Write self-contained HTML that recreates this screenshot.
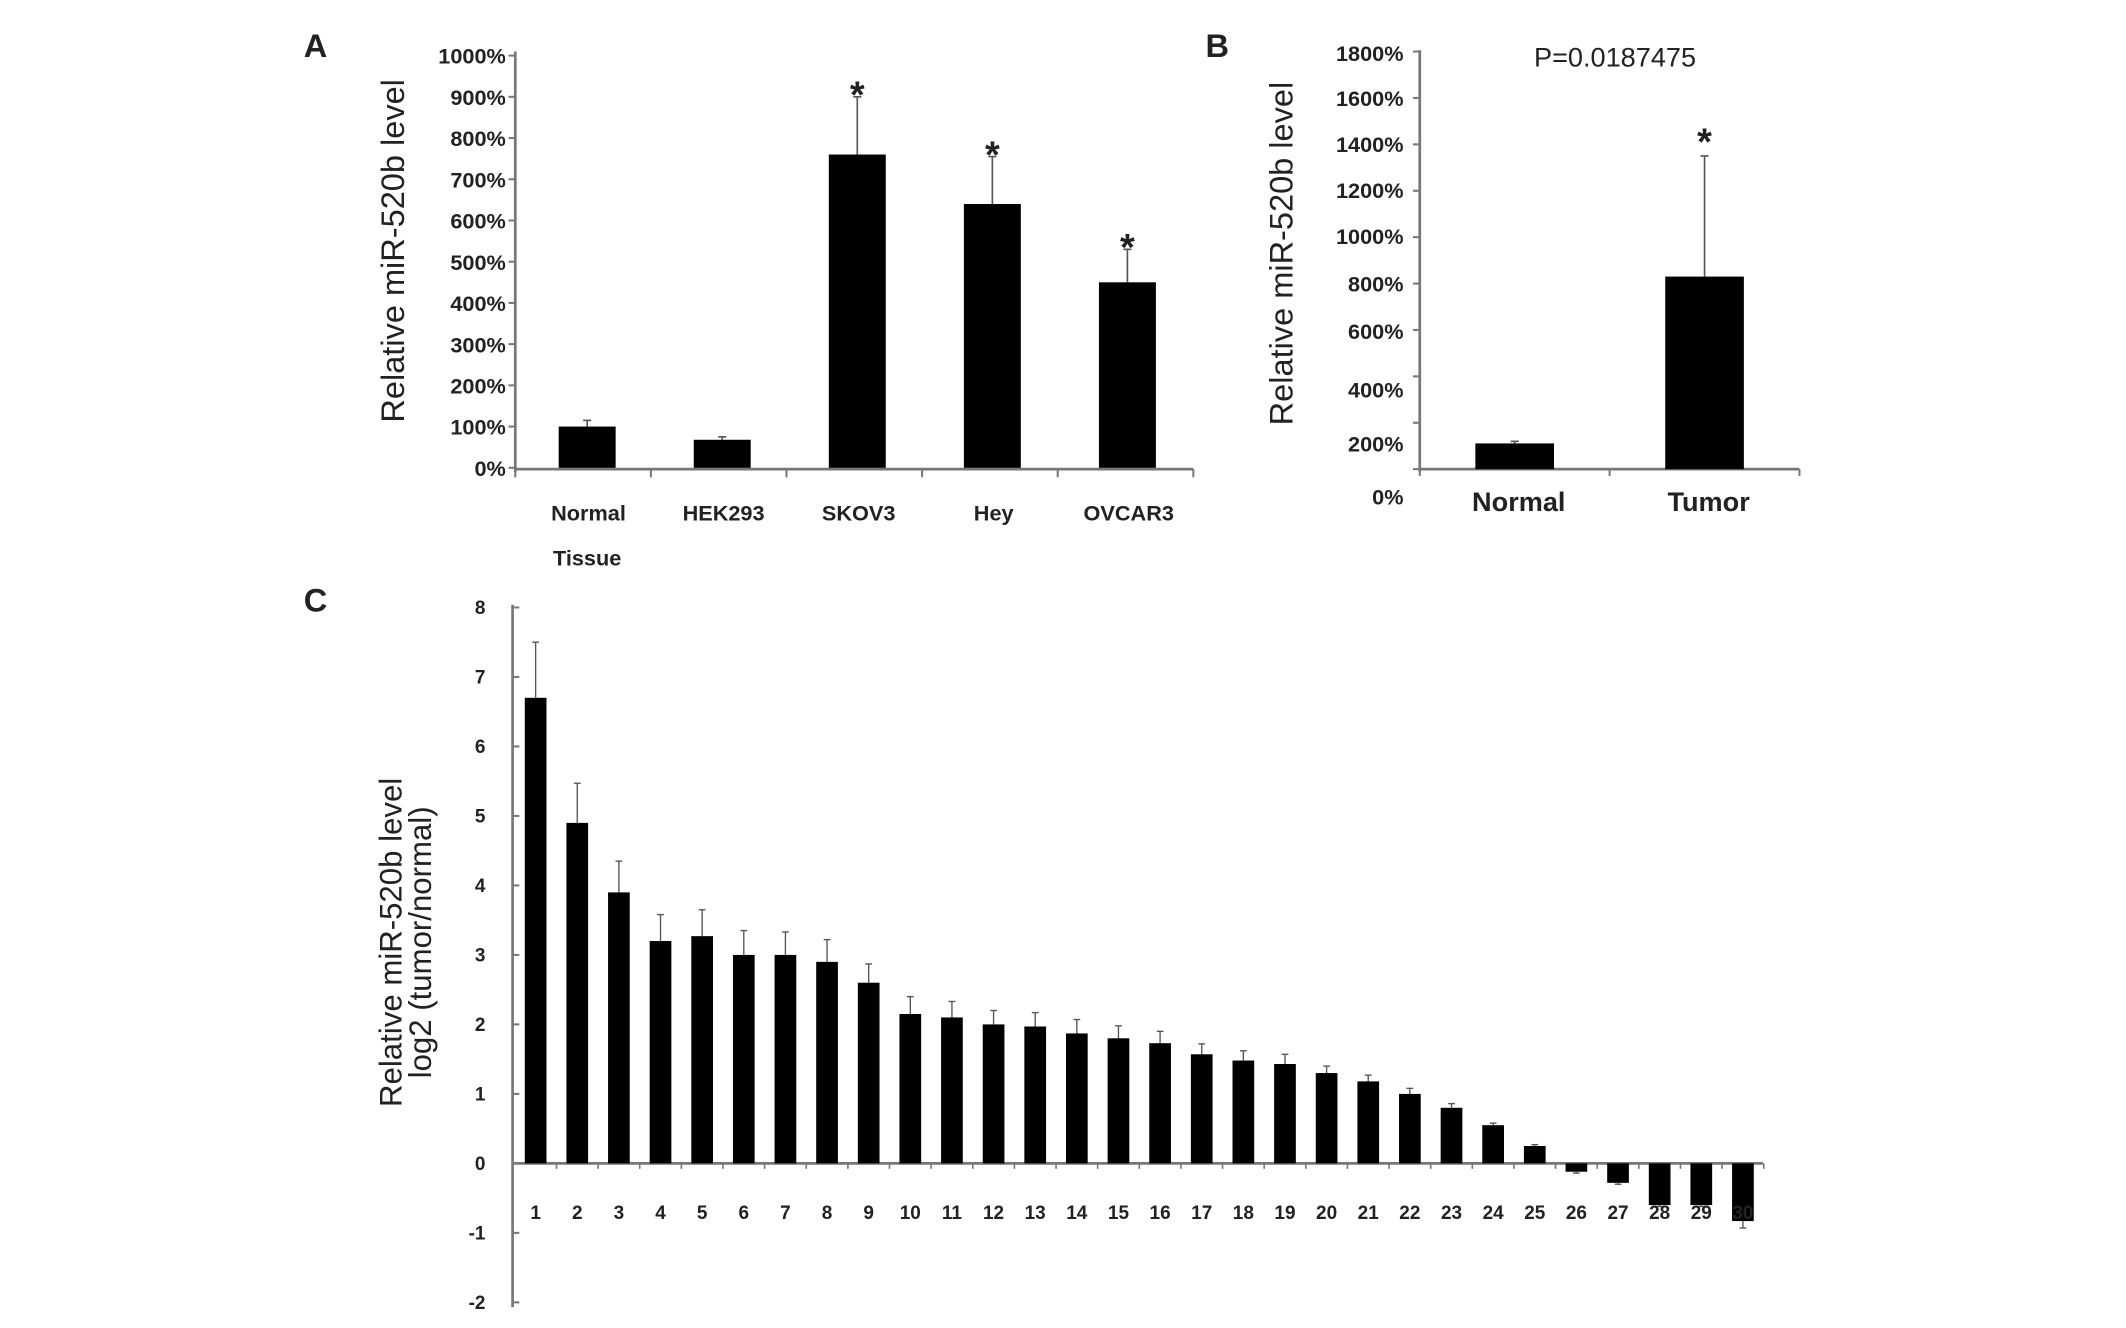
<!DOCTYPE html>
<html><head><meta charset="utf-8"><style>
html,body{margin:0;padding:0;background:#fff;width:2126px;height:1328px;overflow:hidden}
svg{display:block}
text{font-family:"Liberation Sans",Arial,sans-serif;fill:#222}
</style></head><body>
<svg id="fig" width="2126" height="1328" viewBox="0 0 1567.8 979.4" preserveAspectRatio="none" xmlns="http://www.w3.org/2000/svg"></svg>
<script>
// Panel A data
const aCats = ["Normal","HEK293","SKOV3","Hey","OVCAR3"];
const aVals = [100, 68, 760, 640, 450];
const aErrs = [115, 75, 900, 755, 530];
const aStars = [false, false, true, true, true];
const aTicks = [0,100,200,300,400,500,600,700,800,900,1000];
// Panel B data
const bCats = ["Normal","Tumor"];
const bVals = [111, 830];
const bErrs = [120, 1350];
const bTickVals = [0,200,400,600,800,1000,1200,1400,1600,1800];
const bTickLabels = ["0%","200%","400%","600%","800%","1000%","1200%","1400%","1600%","1800%"];
const bLabelY = [366,327,287,244,209,174,140,106,72,39];
// Panel C data
const cCats = Array.from({length:30},(_, i)=>String(i+1));
const cVals = [6.7,4.9,3.9,3.2,3.27,3.0,3.0,2.9,2.6,2.15,2.1,2.0,1.97,1.87,1.8,1.73,1.57,1.48,1.43,1.3,1.18,1.0,0.8,0.55,0.25,-0.12,-0.28,-0.6,-0.6,-0.83];
const cErrs = [7.5,5.47,4.35,3.58,3.65,3.35,3.33,3.22,2.87,2.4,2.33,2.2,2.17,2.07,1.98,1.9,1.72,1.62,1.57,1.4,1.27,1.08,0.86,0.58,0.27,-0.14,-0.3,-0.62,-0.62,-0.93];
const cTicks = [-2,-1,0,1,2,3,4,5,6,7,8];

const svg = document.getElementById('fig');
const NS = 'http://www.w3.org/2000/svg';
function mk(tag, attrs, txt){
  const e = document.createElementNS(NS, tag);
  for (const k in attrs) e.setAttribute(k, attrs[k]);
  if (txt !== undefined) e.textContent = txt;
  svg.appendChild(e);
  return e;
}
const AX = '#777';
let e;

// ---------- Panel A ----------
const aY = v => 345 - v * 0.304;
const aX = i => 433 + i * 99.6;
e = mk('text',{x:224,y:42,'font-family':'Liberation Serif','font-weight':'bold','font-size':24},'A');
 
e = mk('line',{x1:380,y1:38,x2:380,y2:348,stroke:AX,'stroke-width':2});
 
e = mk('line',{x1:380,y1:346,x2:880,y2:346,stroke:AX,'stroke-width':2});
 
aTicks.forEach(t=>{
  e = mk('line',{x1:375,y1:aY(t),x2:380,y2:aY(t),stroke:AX,'stroke-width':1.5});
   
  e = mk('text',{x:373,y:aY(t)+6,'text-anchor':'end','font-size':16,'font-weight':'bold'},t+'%');
   
});
for (let i=0;i<=aCats.length;i++){
  const x = 380 + i*100;
  e = mk('line',{x1:x,y1:346,x2:x,y2:352,stroke:AX,'stroke-width':1.5});
   
}
aCats.forEach((c,i)=>{
  e = mk('line',{x1:aX(i),y1:aY(aVals[i]),x2:aX(i),y2:aY(aErrs[i]),stroke:'#555','stroke-width':1.2});
   
  e = mk('line',{x1:aX(i)-3,y1:aY(aErrs[i]),x2:aX(i)+3,y2:aY(aErrs[i]),stroke:'#555','stroke-width':1.2});
   
  e = mk('rect',{x:aX(i)-21,y:aY(aVals[i]),width:42,height:345-aY(aVals[i]),fill:'#000'});
   
  if (aStars[i]){
    e = mk('text',{x:aX(i),y:aY(aErrs[i])+8,'text-anchor':'middle','font-size':28,'font-weight':'bold'},'*');
     
  }
  e = mk('text',{x:aX(i)+1,y:384,'text-anchor':'middle','font-size':16,'font-weight':'bold'},c);
   
});
e = mk('text',{x:aX(0),y:417,'text-anchor':'middle','font-size':16,'font-weight':'bold'},'Tissue');
 
e = mk('text',{x:0,y:0,'text-anchor':'middle','font-size':24,transform:'translate(298,185) rotate(-90)'},'Relative miR-520b level');
 

// ---------- Panel B ----------
const bY = v => 346 - v * 0.1711;
const bX = i => 1117 + i * 140;
e = mk('text',{x:889,y:42,'font-family':'Liberation Serif','font-weight':'bold','font-size':24},'B');
 
e = mk('line',{x1:1047,y1:37,x2:1047,y2:348,stroke:AX,'stroke-width':2});
 
e = mk('line',{x1:1047,y1:346,x2:1327,y2:346,stroke:AX,'stroke-width':2});
 
bTickVals.forEach((t,i)=>{
  e = mk('line',{x1:1042,y1:bY(t),x2:1047,y2:bY(t),stroke:AX,'stroke-width':1.5});
   
  e = mk('text',{x:1035,y:bLabelY[i]+6,'text-anchor':'end','font-size':16,'font-weight':'bold'},bTickLabels[i]);
   
});
[1047,1187,1327].forEach(x=>{
  e = mk('line',{x1:x,y1:346,x2:x,y2:351,stroke:AX,'stroke-width':1.5});
   
});
bCats.forEach((c,i)=>{
  const cx = bX(i);
  e = mk('line',{x1:cx,y1:bY(bVals[i]),x2:cx,y2:bY(bErrs[i]),stroke:'#555','stroke-width':1.2});
   
  e = mk('line',{x1:cx-3,y1:bY(bErrs[i]),x2:cx+3,y2:bY(bErrs[i]),stroke:'#555','stroke-width':1.2});
   
  e = mk('rect',{x:cx-29,y:bY(bVals[i]),width:58,height:346-bY(bVals[i]),fill:'#000'});
   
  e = mk('text',{x:cx+3,y:377,'text-anchor':'middle','font-size':20,'font-weight':'bold'},c);
   
});
e = mk('text',{x:bX(1),y:bY(bErrs[1])-1,'text-anchor':'middle','font-size':28,'font-weight':'bold'},'*');
 
e = mk('text',{x:1191,y:49,'text-anchor':'middle','font-size':20},'P=0.0187475');
 
e = mk('text',{x:0,y:0,'text-anchor':'middle','font-size':24,transform:'translate(953,187) rotate(-90)'},'Relative miR-520b level');
 

// ---------- Panel C ----------
const cY = v => 858 - v * 51.25;
const cX = i => 395 + i * 30.7;
e = mk('text',{x:224,y:451,'font-family':'Liberation Serif','font-weight':'bold','font-size':24},'C');
 
e = mk('line',{x1:378,y1:446,x2:378,y2:964,stroke:AX,'stroke-width':2});
 
e = mk('line',{x1:378,y1:858,x2:1300,y2:858,stroke:AX,'stroke-width':2});
 
cTicks.forEach(t=>{
  e = mk('line',{x1:378,y1:cY(t),x2:383,y2:cY(t),stroke:AX,'stroke-width':1.5});
   
  e = mk('text',{x:358,y:cY(t)+5,'text-anchor':'end','font-size':14,'font-weight':'bold'},String(t));
   
});
cCats.forEach((c,i)=>{
  const cx = cX(i), v = cVals[i], er = cErrs[i];
  e = mk('line',{x1:cx+15.35,y1:858,x2:cx+15.35,y2:862,stroke:AX,'stroke-width':1.2});
   
  e = mk('line',{x1:cx,y1:cY(v),x2:cx,y2:cY(er),stroke:'#555','stroke-width':1});
   
  e = mk('line',{x1:cx-2.5,y1:cY(er),x2:cx+2.5,y2:cY(er),stroke:'#555','stroke-width':1});
   
  const top = Math.min(cY(v),858), h = Math.abs(cY(v)-858);
  e = mk('rect',{x:cx-8,y:top,width:16,height:h,fill:'#000'});
   
  e = mk('text',{x:cx,y:899,'text-anchor':'middle','font-size':14,'font-weight':'bold'},c);
   
});
e = mk('text',{x:0,y:0,'text-anchor':'middle','font-size':23,transform:'translate(296,695) rotate(-90)'},'Relative miR-520b level');
 
e = mk('text',{x:0,y:0,'text-anchor':'middle','font-size':23,transform:'translate(318,695) rotate(-90)'},'log2 (tumor/normal)');
 
</script>
</body></html>
